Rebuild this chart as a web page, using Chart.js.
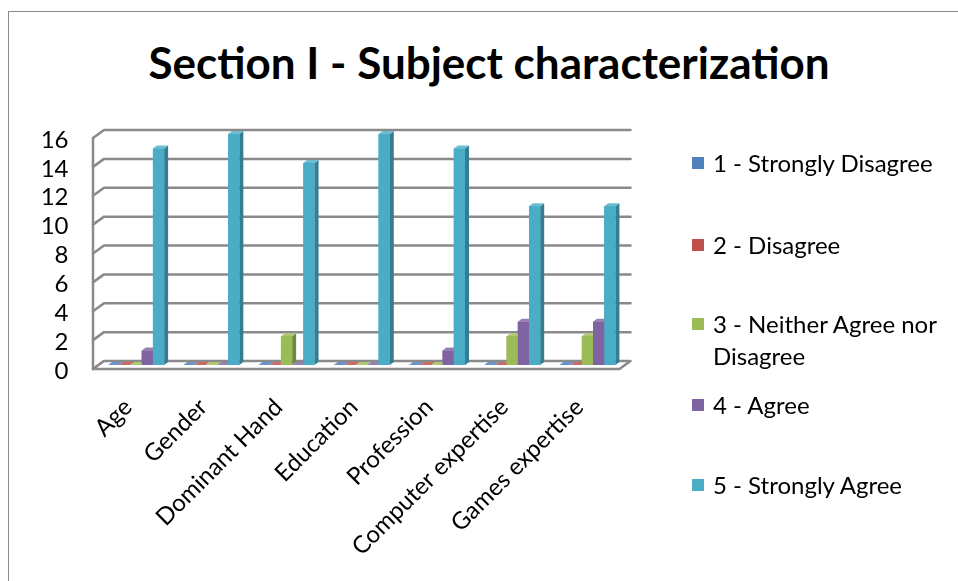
<!DOCTYPE html>
<html>
<head>
<meta charset="utf-8">
<script src="https://cdn.jsdelivr.net/npm/chart.js@4.4.0/dist/chart.umd.min.js"></script>
<style>
  html, body { margin: 0; padding: 0; width: 958px; height: 581px; overflow: hidden; background: #fff; }
  body { position: relative; font-family: Lato, 'Open Sans', sans-serif; color: #000; }
  #frame { position: absolute; left: 8px; top: 11px; width: 980px; height: 600px;
           border-left: 1px solid #8a8a8a; border-top: 1px solid #8a8a8a; }
  #chartWrap { position: absolute; left: 0; top: 0; width: 958px; height: 581px; }
  #title { position: absolute; left: 0; width: 978px; top: 34px; text-align: center;
           font-weight: bold; font-size: 44px; line-height: 56px; }
  #legend { position: absolute; left: 692px; top: 0; }
  .item { position: absolute; left: 0; white-space: nowrap; font-size: 24px; line-height: 32px; }
  .swatch { position: absolute; left: 0; top: 10px; width: 12px; height: 12px; }
  .label { position: absolute; left: 21px; top: 0; }
</style>
</head>
<body>
<div id="frame"></div>
<div id="title">Section I - Subject characterization</div>
<div id="chartWrap"><canvas id="chart" width="958" height="581"></canvas></div>
<div id="legend"></div>
<script>
// categories and series
const categories = ['Age', 'Gender', 'Dominant Hand', 'Education', 'Profession', 'Computer expertise', 'Games expertise'];
const seriesNames = ['1 - Strongly Disagree', '2 - Disagree', '3 - Neither Agree nor Disagree', '4 - Agree', '5 - Strongly Agree'];
const stronglyDisagree = [0, 0, 0, 0, 0, 0, 0];
const disagree = [0, 0, 0, 0, 0, 0, 0];
const neitherAgree = [0, 0, 2, 0, 0, 2, 2];
const agree = [1, 0, 0, 0, 1, 3, 3];
const stronglyAgree = [15, 16, 14, 16, 15, 11, 11];
const yMax = 16;
const yStep = 2;

const frontColors = ['#4F81BD', '#C0504D', '#9BBB59', '#8064A2', '#4BACC6'];
const sideColors = ['#385D8A', '#8C3836', '#71893F', '#5C4776', '#357D91'];
const topColors = ['#6A94C8', '#CC6A67', '#AEC874', '#9580B2', '#6DBDD2'];

const seriesValues = [stronglyDisagree, disagree, neitherAgree, agree, stronglyAgree];

// half depth of the plot box, and depth of each column
const DX = 5.5, DY = 4;
const BX = 4, BY = 3;
const GRID = '#8a8a8a';

const box3d = {
  id: 'box3d',
  beforeDatasetsDraw(chart) {
    const ctx = chart.ctx;
    const area = chart.chartArea;
    const y = chart.scales.y;
    const y0 = y.getPixelForValue(0);
    const yTop = y.getPixelForValue(yMax);
    ctx.save();
    ctx.strokeStyle = GRID;
    ctx.lineWidth = 2.5;
    ctx.lineJoin = 'round';
    ctx.lineCap = 'round';
    // back wall gridlines and left wall diagonals
    y.ticks.forEach(t => {
      const py = y.getPixelForValue(t.value);
      ctx.beginPath();
      ctx.moveTo(area.left - DX, py + DY);
      ctx.lineTo(area.left + DX, py - DY);
      if (t.value !== 0) ctx.lineTo(area.right + DX, py - DY);
      ctx.stroke();
    });
    // left wall front edge
    ctx.beginPath();
    ctx.moveTo(area.left - DX, yTop + DY);
    ctx.lineTo(area.left - DX, y0 + DY);
    ctx.stroke();
    // floor
    ctx.beginPath();
    ctx.moveTo(area.left - DX, y0 + DY);
    ctx.lineTo(area.right - DX, y0 + DY);
    ctx.lineTo(area.right + DX, y0 - DY);
    ctx.lineTo(area.left + DX, y0 - DY);
    ctx.closePath();
    ctx.fillStyle = '#fff';
    ctx.fill();
    ctx.stroke();
    ctx.restore();
  },
  afterDatasetsDraw(chart) {
    const ctx = chart.ctx;
    ctx.save();
    categories.forEach((c, i) => {
      seriesValues.forEach((vals, j) => {
        const bar = chart.getDatasetMeta(j).data[i];
        const left = bar.x - bar.width / 2;
        const right = bar.x + bar.width / 2;
        const top = bar.y;
        const base = bar.base;
        // side
        ctx.fillStyle = sideColors[j];
        ctx.beginPath();
        ctx.moveTo(right, top);
        ctx.lineTo(right + BX, top - BY);
        ctx.lineTo(right + BX, base - BY);
        ctx.lineTo(right, base);
        ctx.closePath();
        ctx.fill();
        // top
        ctx.fillStyle = topColors[j];
        ctx.beginPath();
        ctx.moveTo(left, top);
        ctx.lineTo(left + BX, top - BY);
        ctx.lineTo(right + BX, top - BY);
        ctx.lineTo(right, top);
        ctx.closePath();
        ctx.fill();
        // front
        ctx.fillStyle = frontColors[j];
        ctx.fillRect(left, top, right - left, base - top);
      });
    });
    ctx.restore();
  }
};

const datasets = seriesNames.map((name, j) => ({
  label: name,
  data: seriesValues[j],
  backgroundColor: frontColors[j],
  borderWidth: 0,
  categoryPercentage: 0.745,
  barPercentage: 1.0
}));

function zeroPadding(scale) {
  scale.paddingTop = 0;
  scale.paddingBottom = 0;
  scale.paddingLeft = 0;
  scale.paddingRight = 0;
}

new Chart(document.getElementById('chart'), {
  type: 'bar',
  data: { labels: categories, datasets: datasets },
  plugins: [box3d],
  options: {
    responsive: false,
    animation: false,
    devicePixelRatio: 1,
    layout: { padding: { left: 38.5, right: 333, top: 134, bottom: 0 } },
    plugins: {
      legend: { display: false },
      title: { display: false },
      tooltip: { enabled: false }
    },
    scales: {
      x: {
        grid: { display: false, drawTicks: false },
        border: { display: false },
        ticks: {
          font: { family: 'Lato', size: 24 },
          color: '#000',
          minRotation: 45,
          maxRotation: 45,
          padding: 28,
          labelOffset: -8,
          autoSkip: false
        },
        afterFit(scale) { scale.height = 216; zeroPadding(scale); }
      },
      y: {
        min: 0,
        max: yMax,
        grid: { display: false, drawTicks: false },
        border: { display: false },
        ticks: {
          stepSize: yStep,
          autoSkip: false,
          font: { family: 'Lato', size: 24 },
          color: '#000',
          padding: 30,
          labelOffset: 6
        },
        afterFit(scale) { scale.width = 60; zeroPadding(scale); }
      }
    }
  }
});

// legend built as html so the long label can wrap like the original
const legendCenters = [163, 245, 324, 405, 485];
const legend = document.getElementById('legend');
seriesNames.forEach((name, j) => {
  const item = document.createElement('div');
  item.className = 'item';
  item.style.top = (legendCenters[j] - 16) + 'px';
  const text = j === 2 ? '3 - Neither Agree nor<br>Disagree' : name;
  item.innerHTML = `<span class="swatch" style="background:${frontColors[j]}"></span><span class="label">${text}</span>`;
  legend.appendChild(item);
});
</script>
</body>
</html>
